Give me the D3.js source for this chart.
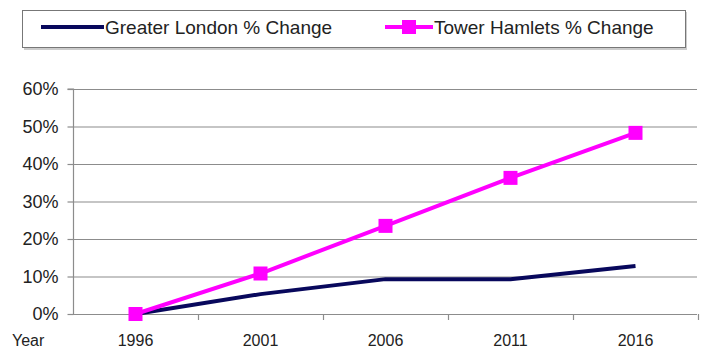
<!DOCTYPE html>
<html><head><meta charset="utf-8">
<script src="https://cdn.jsdelivr.net/npm/d3@7"></script>
<style>body{margin:0;background:#fff}svg{display:block;font-family:"Liberation Sans",Arial,sans-serif}</style>
</head><body><svg id="c" width="704" height="352"></svg>
<script>
const years = ["1996","2001","2006","2011","2016"];
const londonValues = [0, 5.3, 9.3, 9.3, 12.8];
const towerValues = [0, 10.8, 23.5, 36.3, 48.3];
const yTicks = [0,10,20,30,40,50,60];
const seriesNames = ["Greater London % Change","Tower Hamlets % Change"];

(function(){
const svg = d3.select("#c");
const pL = 73, pR = 698, pT = 89, pB = 314;
const x = d3.scaleBand().domain(years).range([pL,pR]);
const y = d3.scaleLinear().domain([0,60]).range([pB,pT]);

// gridlines
svg.append("g").selectAll("line").data(yTicks.filter(d=>d>0)).join("line")
  .attr("x1",pL).attr("x2",697).attr("y1",d=>y(d)+0.5).attr("y2",d=>y(d)+0.5)
  .attr("stroke","#8c8c8c").attr("stroke-width",1.2);

// y axis
const ya = svg.append("g").attr("transform",`translate(${pL+0.5},0)`)
  .call(d3.axisLeft(y).tickValues(yTicks).tickFormat(d=>d+"%").tickSize(6).tickPadding(9));
ya.select(".domain").attr("stroke","#8c8c8c").attr("stroke-width",1.2).attr("d",`M-6,${pT}H0V${pB}`);
ya.selectAll(".tick line").attr("stroke","#8c8c8c").attr("stroke-width",1.2);
ya.selectAll("text").attr("font-size",18).attr("fill","#222").attr("font-family","Liberation Sans, Arial, sans-serif");

// x axis
const xa = svg.append("g").attr("transform",`translate(0,${pB+0.5})`)
  .call(d3.axisBottom(x).tickSize(0).tickPadding(20));
xa.select(".domain").attr("stroke","#8c8c8c").attr("stroke-width",1.2).attr("d",`M${pL},0H697`);
xa.selectAll("text").attr("font-size",16).attr("fill","#222").attr("font-family","Liberation Sans, Arial, sans-serif");
const bounds = years.map(d=>x(d)).concat([pR]).slice(1);
svg.append("g").selectAll("line").data(bounds).join("line")
  .attr("x1",d=>Math.round(d)+0.5).attr("x2",d=>Math.round(d)+0.5)
  .attr("y1",pB).attr("y2",pB+6).attr("stroke","#8c8c8c").attr("stroke-width",1.2);
svg.append("text").attr("x",12).attr("y",346).attr("font-size",16).attr("fill","#222").text("Year");

const cx = d=>x(d)+x.bandwidth()/2;
const line = d3.line().x((d,i)=>cx(years[i])).y(d=>y(d));

svg.append("path").datum(londonValues).attr("d",line).attr("fill","none")
  .attr("stroke","#08085c").attr("stroke-width",4);
svg.append("path").datum(towerValues).attr("d",line).attr("fill","none")
  .attr("stroke","#ff00ff").attr("stroke-width",4);
svg.append("g").selectAll("rect").data(towerValues).join("rect")
  .attr("x",(d,i)=>cx(years[i])-7).attr("y",d=>y(d)-7).attr("width",14).attr("height",14)
  .attr("fill","#ff00ff");

// legend
const lg = svg.append("g");
lg.append("rect").attr("x",24).attr("y",12).attr("width",663).attr("height",38).attr("fill","#ccc");
lg.append("rect").attr("x",22.5).attr("y",10.5).attr("width",663).attr("height",37).attr("fill","#fff").attr("stroke","#777").attr("stroke-width",1);
lg.append("line").attr("x1",41).attr("x2",104).attr("y1",27).attr("y2",27).attr("stroke","#08085c").attr("stroke-width",4);
lg.append("text").attr("x",105).attr("y",34).attr("font-size",19).attr("fill","#222").text(seriesNames[0]);
lg.append("line").attr("x1",385).attr("x2",433).attr("y1",27).attr("y2",27).attr("stroke","#ff00ff").attr("stroke-width",4);
lg.append("rect").attr("x",402).attr("y",20).attr("width",14).attr("height",14).attr("fill","#ff00ff");
lg.append("text").attr("x",434).attr("y",34).attr("font-size",19).attr("fill","#222").text(seriesNames[1]);
})();
</script></body></html>
